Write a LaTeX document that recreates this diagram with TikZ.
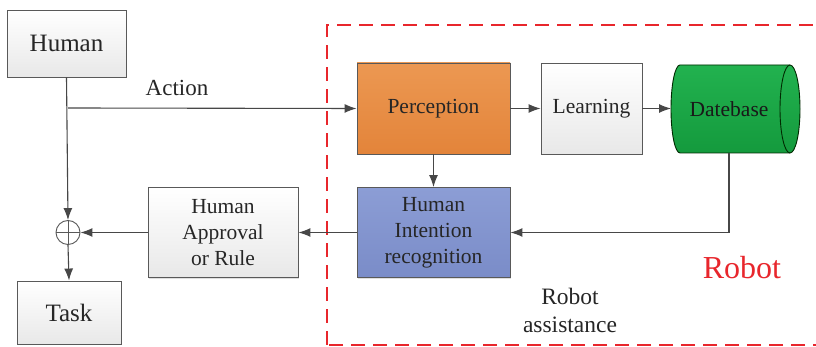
\documentclass[tikz,border=0pt]{standalone}
\usepackage{fontspec}
\setmainfont{Liberation Serif}
\usetikzlibrary{arrows.meta,shadows}
\definecolor{orA}{HTML}{EC9852}
\definecolor{orB}{HTML}{E3843A}
\definecolor{blA}{HTML}{8C9DD5}
\definecolor{blB}{HTML}{7A8CC8}
\definecolor{grA}{HTML}{22B24F}
\definecolor{grB}{HTML}{149A3D}
\definecolor{rbred}{HTML}{E8262C}
\begin{document}
\begin{tikzpicture}[x=1pt,y=1pt,
  box/.style={draw=black!65, line width=0.9pt, inner sep=0pt, align=center, text=black!85,
    font=\rmfamily\fontsize{21.5}{26}\selectfont,
    drop shadow={shadow xshift=1.2pt, shadow yshift=-1.2pt, opacity=0.25, fill=black!50}},
  graybox/.style={box, top color=white, bottom color=black!9},
  conn/.style={draw=black!72, line width=1.1pt},
  arr/.style={conn, -{Latex[length=12pt,width=9pt]}},
  lbl/.style={text=black!85, align=center, inner sep=0pt}]
\useasboundingbox (0,0) rectangle (816,347);
\fill[white] (0,0) rectangle (816,347);
% robot region
\draw[rbred, line width=1.4pt, dash pattern=on 14pt off 8pt] (327,2) rectangle (840,322);
% nodes
\node[graybox, minimum width=119, minimum height=67, font=\rmfamily\fontsize{25}{30}\selectfont] (hum) at (66.5,303.5) {Human};
\node[graybox, minimum width=104, minimum height=63, font=\rmfamily\fontsize{25}{30}\selectfont] (task) at (69,34.5) {Task};
\node[box, top color=orA, bottom color=orB, minimum width=153, minimum height=91] (per) at (433.5,238.5) {Perception};
\node[graybox, minimum width=101, minimum height=91] (lrn) at (591.5,238.5) {Learning};
\node[box, top color=blA, bottom color=blB, minimum width=153, minimum height=90] (rec) at (433.5,114.5) {Human\\Intention\\recognition};
\node[graybox, minimum width=150, minimum height=90] (app) at (223,114.5) {Human\\Approval\\or Rule};
% database cylinder
\shade[top color=grA, bottom color=grB, draw=black!60!green!40!black, line width=0.9pt]
  (680,282) -- (790,282) arc[start angle=90, end angle=-90, x radius=10, y radius=44]
  -- (680,194) arc[start angle=270, end angle=90, x radius=9, y radius=44] -- cycle;
\draw[black!60!green!40!black, line width=0.9pt] (790,282) arc[start angle=90, end angle=270, x radius=10, y radius=44];
\node[lbl, minimum width=129, minimum height=88, font=\rmfamily\fontsize{21.5}{26}\selectfont, text=black!90] (db) at (729,238) {Datebase};
% sum junction
\node[circle, draw=black!65, line width=0.9pt, minimum size=24, inner sep=0pt] (op) at (68,114.5) {};
\draw[black!65, line width=0.9pt] (op.north) -- (op.south) (op.west) -- (op.east);
% labels
\node[lbl, font=\rmfamily\fontsize{23}{28}\selectfont] (act) at (177,259) {Action};
\node[lbl, font=\rmfamily\fontsize{23.5}{28}\selectfont] (ras) at (570,37) {Robot\\assistance};
\node[lbl, text=rbred, font=\rmfamily\fontsize{32}{38}\selectfont] (rob) at (742,79) {Robot};
% connectors
\coordinate (j) at (68,239);
\draw[arr] (hum.south) -- (op.north);
\draw[arr] (j) -- (per.west);
\draw[arr] (per.east) -- (lrn.west);
\draw[arr] (lrn.east) -- (671,238.5);
\draw[arr] (per.south) -- (rec.north);
\draw[arr] (db.south) |- (rec.east);
\draw[arr] (rec.west) -- (app.east);
\draw[arr] (app.west) -- (op.east);
\draw[arr] (op.south) -- (task.north);
\end{tikzpicture}
\end{document}
